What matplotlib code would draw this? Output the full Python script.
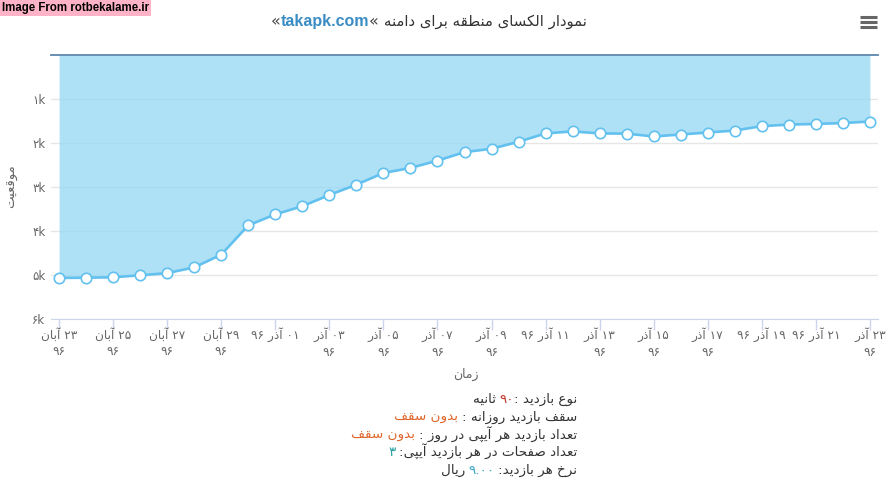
import re
import numpy as np
import matplotlib
matplotlib.use('Agg')
import matplotlib.pyplot as plt
from matplotlib.lines import Line2D

# alexa rank per day, 23 aban 96 .. 23 azar 96
rank = [5060, 5055, 5045, 5000, 4950, 4820, 4530, 3865, 3615, 3430, 3175,
        2940, 2675, 2560, 2395, 2200, 2125, 1965, 1775, 1730, 1775, 1780,
        1845, 1800, 1755, 1710, 1610, 1575, 1560, 1540, 1505]
tick_labels = ["۲۳ آبان\n۹۶", "۲۵ آبان\n۹۶", "۲۷ آبان\n۹۶", "۲۹ آبان\n۹۶",
               "۰۱ آذر ۹۶", "۰۳ آذر\n۹۶", "۰۵ آذر\n۹۶", "۰۷ آذر\n۹۶",
               "۰۹ آذر\n۹۶", "۱۱ آذر ۹۶", "۱۳ آذر\n۹۶", "۱۵ آذر\n۹۶",
               "۱۷ آذر\n۹۶", "۱۹ آذر ۹۶", "۲۱ آذر ۹۶", "۲۳ آذر\n۹۶"]
y_ticks = [1000, 2000, 3000, 4000, 5000, 6000]
y_labels = ["۱k", "۲k", "۳k", "۴k", "۵k", "۶k"]

title_fa = "نمودار الکسای منطقه برای دامنه "
title_domain = "takapk.com"
info_lines = [
    [("نوع بازدید :", '#333333'), ("۹۰", '#c0392b'), (" ثانیه", '#333333')],
    [("سقف بازدید روزانه : ", '#333333'), ("بدون سقف", '#e0652a')],
    [("تعداد بازدید هر آیپی در روز : ", '#333333'), ("بدون سقف", '#e0652a')],
    [("تعداد صفحات در هر بازدید آیپی: ", '#333333'), ("۳", '#2a9fa0')],
    [("نرخ هر بازدید: ", '#333333'), ("۹.۰۰", '#3ea6c8'), (" ریال", '#333333')],
]

# --- minimal persian shaping (matplotlib has no bidi / joining) ---
FORMS = {
    'ا': ('\uFE8D', '\uFE8E'), 'آ': ('\uFE81', '\uFE82'),
    'د': ('\uFEA9', '\uFEAA'), 'ذ': ('\uFEAB', '\uFEAC'),
    'ر': ('\uFEAD', '\uFEAE'), 'ز': ('\uFEAF', '\uFEB0'),
    'ژ': ('\uFB8A', '\uFB8B'), 'و': ('\uFEED', '\uFEEE'),
    'ب': ('\uFE8F', '\uFE90', '\uFE91', '\uFE92'),
    'پ': ('\uFB56', '\uFB57', '\uFB58', '\uFB59'),
    'ت': ('\uFE95', '\uFE96', '\uFE97', '\uFE98'),
    'ث': ('\uFE99', '\uFE9A', '\uFE9B', '\uFE9C'),
    'ج': ('\uFE9D', '\uFE9E', '\uFE9F', '\uFEA0'),
    'چ': ('\uFB7A', '\uFB7B', '\uFB7C', '\uFB7D'),
    'ح': ('\uFEA1', '\uFEA2', '\uFEA3', '\uFEA4'),
    'خ': ('\uFEA5', '\uFEA6', '\uFEA7', '\uFEA8'),
    'س': ('\uFEB1', '\uFEB2', '\uFEB3', '\uFEB4'),
    'ش': ('\uFEB5', '\uFEB6', '\uFEB7', '\uFEB8'),
    'ص': ('\uFEB9', '\uFEBA', '\uFEBB', '\uFEBC'),
    'ط': ('\uFEC1', '\uFEC2', '\uFEC3', '\uFEC4'),
    'ع': ('\uFEC9', '\uFECA', '\uFECB', '\uFECC'),
    'ف': ('\uFED1', '\uFED2', '\uFED3', '\uFED4'),
    'ق': ('\uFED5', '\uFED6', '\uFED7', '\uFED8'),
    '\u06A9': ('\uFB8E', '\uFB8F', '\uFB90', '\uFB91'),
    'گ': ('\uFB92', '\uFB93', '\uFB94', '\uFB95'),
    'ل': ('\uFEDD', '\uFEDE', '\uFEDF', '\uFEE0'),
    'م': ('\uFEE1', '\uFEE2', '\uFEE3', '\uFEE4'),
    'ن': ('\uFEE5', '\uFEE6', '\uFEE7', '\uFEE8'),
    'ه': ('\uFEE9', '\uFEEA', '\uFEEB', '\uFEEC'),
    '\u06CC': ('\uFBFC', '\uFBFD', '\uFBFE', '\uFBFF'),
}
FORMS['\u064A'] = FORMS['\u06CC']
FORMS['\u0643'] = FORMS['\u06A9']
LTR_RUN = r'[0-9\u06F0-\u06F9.A-Za-z]+'


def shape(s):
    out = []
    for i, c in enumerate(s):
        f = FORMS.get(c)
        if f is None:
            out.append(c)
            continue
        prev = s[i - 1] if i > 0 else ''
        nxt = s[i + 1] if i < len(s) - 1 else ''
        jp = prev in FORMS and len(FORMS[prev]) == 4
        jn = len(f) == 4 and nxt in FORMS
        out.append(f[3] if jp and jn else f[1] if jp else f[2] if jn else f[0])
    return ''.join(out)


def fa(s):
    res = []
    for line in s.split('\n'):
        parts = re.findall(LTR_RUN + r'|[^0-9\u06F0-\u06F9.A-Za-z]+', shape(line))
        res.append(''.join(p if re.fullmatch(LTR_RUN, p) else p[::-1]
                           for p in reversed(parts)))
    return '\n'.join(res)


W, H = 891, 484
fig = plt.figure(figsize=(W / 100, H / 100), dpi=100)
ax = fig.add_axes([51 / W, 1 - 319.3 / H, (878 - 51) / W, (319.3 - 55.3) / H])

x = np.arange(len(rank))
for v in y_ticks:
    ax.axhline(v, color='#e6e6e6', lw=1, zorder=0)
ax.fill_between(x, rank, 0, color='#93d6f4', alpha=0.75, lw=0, zorder=1)
ax.plot(x, rank, color='#62c1ee', lw=1.9, marker='o', ms=7.5, mfc='white',
        mec='#62c1ee', mew=1.2, zorder=3, clip_on=False)

ax.set_xlim(-0.3, len(rank) - 1 + 0.3)
ax.set_ylim(6000, 0)
ax.set_yticks(y_ticks)
ax.set_yticklabels(y_labels)
ax.set_xticks(x[::2])
ax.set_xticklabels([fa(t) for t in tick_labels], linespacing=1.4)
ax.tick_params(axis='y', length=0, pad=4, labelsize=8.5, labelcolor='#666666')
ax.tick_params(axis='x', length=8, width=1, color='#ccd6eb', pad=-2,
               labelsize=8.7, labelcolor='#666666')
for s in ('left', 'right'):
    ax.spines[s].set_visible(False)
ax.spines['top'].set_color('#5b87ac')
ax.spines['top'].set_linewidth(1.3)
ax.spines['bottom'].set_color('#ccd6eb')

fig.text(12 / W, 1 - 186 / H, fa("موقعیت"), rotation=90, ha='center',
         va='center', fontsize=9.5, color='#666666')
fig.text(466 / W, 1 - 374 / H, fa("زمان"), ha='center', va='center',
         fontsize=9, color='#666666')

r = fig.canvas.get_renderer()


def rtl_line(xr, y, segs, size, gap=3.5):
    for text, color in segs:
        if text.startswith(' '):
            xr -= gap
        t = fig.text(xr / W, 1 - y / H, fa(text.strip()), ha='right',
                     va='baseline', color=color, fontsize=size)
        xr -= t.get_window_extent(r).width
        if text.endswith(' '):
            xr -= gap
    return xr


# title
ty = 26
xl = rtl_line(587, ty, [(title_fa, '#333333')], 10.7, gap=5)
t = fig.text(xl / W, 1 - ty / H, "\u00ab", ha='right', va='baseline',
             fontsize=11.5, color='#444444')
xl -= t.get_window_extent(r).width
t = fig.text(xl / W, 1 - ty / H, title_domain, ha='right', va='baseline',
             fontsize=11.5, color='#3a8cc4', fontweight='bold',
             family='Liberation Sans')
xl -= t.get_window_extent(r).width
fig.text(xl / W, 1 - ty / H, "\u00ab", ha='right', va='baseline',
         fontsize=11.5, color='#444444')

# info block under the chart
for i, segs in enumerate(info_lines):
    rtl_line(577, 403 + i * 17.7, segs, 9.7)

# watermark + menu icon
fig.text(2 / W, 1 - 8 / H, 'Image From rotbekalame.ir', fontsize=8.3,
         fontweight='bold', family='Liberation Sans', ha='left', va='center',
         bbox=dict(boxstyle='square,pad=0.15', fc='#ffb3c9', ec='none'))
for yy in (17.3, 22.3, 27.3):
    fig.add_artist(Line2D([860 / W, 877 / W], [1 - yy / H] * 2,
                          color='#666666', lw=2.2, solid_capstyle='butt'))

fig.savefig('out.png', dpi=100)
